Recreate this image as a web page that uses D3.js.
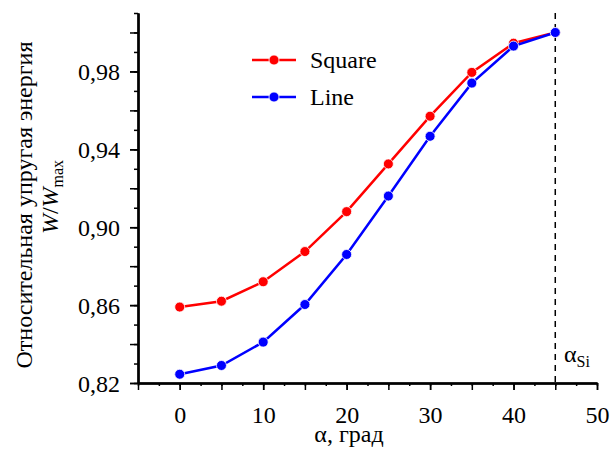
<!DOCTYPE html>
<html>
<head>
<meta charset="utf-8">
<script src="https://cdn.jsdelivr.net/npm/d3@7"></script>
</head>
<body style="margin:0;background:#fff">
<svg id="chart" width="611" height="454">
  <g class="titles">
    <text x="349" y="442" text-anchor="middle" style="font-family:'Liberation Serif';font-size:24px">α, град</text>
    <text transform="translate(32,205) rotate(-90)" text-anchor="middle" style="font-family:'Liberation Serif';font-size:24px">Относительная упругая энергия</text>
    <text transform="translate(58,197) rotate(-90)" text-anchor="middle" style="font-family:'Liberation Serif';font-size:24px"><tspan style="font-style:italic">W</tspan>/<tspan style="font-style:italic">W</tspan><tspan dy="5" style="font-size:16px">max</tspan></text>
    <text x="564" y="362" style="font-family:'Liberation Serif';font-size:24px">α<tspan dy="5" style="font-size:16px">Si</tspan></text>
  </g>
</svg>
<script>
var serif = 'Liberation Serif'

// angle, degrees
var angles = [0, 5, 10, 15, 20, 25, 30, 35, 40, 45]
var square = [0.859, 0.862, 0.872, 0.8875, 0.908, 0.9325, 0.957, 0.9795, 0.9945, 1.0]
var line = [0.8245, 0.829, 0.841, 0.8603, 0.886, 0.916, 0.9467, 0.974, 0.993, 1.0]
var seriesNames = ['Square', 'Line']
var seriesColors = ['#ff0000', '#0000ff']
var xTicks = [0, 10, 20, 30, 40, 50]
var yTicks = [0.82, 0.86, 0.90, 0.94, 0.98]
var alphaSi = 45

var x = d3.scaleLinear()
    .domain([-5, 50])
    .range([138, 597])

var y = d3.scaleLinear()
    .domain([0.82, 1.01])
    .range([383, 13])

var svg = d3.select('#chart')

var fmt = function(d) { return d3.format('.2f')(d).replace('.', ',') }

// minor and major ticks
svg.append('g')
    .attr('transform', 'translate(0,383)')
    .call(d3.axisBottom(x).tickValues(d3.range(-5, 50.1, 2.5)).tickSize(3).tickSizeOuter(0).tickFormat(''))
svg.append('g')
    .attr('transform', 'translate(0,383)')
    .call(d3.axisBottom(x).tickValues(d3.range(-5, 50.1, 5)).tickSize(7).tickSizeOuter(0).tickFormat(''))
var xAxis = svg.append('g')
    .attr('transform', 'translate(0,383)')
    .call(d3.axisBottom(x).tickValues(xTicks).tickSize(7).tickSizeOuter(0).tickPadding(16))

svg.append('g')
    .attr('transform', 'translate(138,0)')
    .call(d3.axisLeft(y).tickValues(d3.range(0.82, 1.015, 0.01)).tickSize(4).tickSizeOuter(0).tickFormat(''))
svg.append('g')
    .attr('transform', 'translate(138,0)')
    .call(d3.axisLeft(y).tickValues(d3.range(0.82, 1.005, 0.02)).tickSize(8).tickSizeOuter(0).tickFormat(''))
var yAxis = svg.append('g')
    .attr('transform', 'translate(138,0)')
    .call(d3.axisLeft(y).tickValues(yTicks).tickSize(8).tickSizeOuter(0).tickPadding(10).tickFormat(fmt))

svg.selectAll('.domain').attr('stroke', '#000').attr('stroke-width', 2)
svg.selectAll('.tick line').attr('stroke', '#000').attr('stroke-width', 1.5)
svg.selectAll('.tick text').style('font-size', '24px')
yAxis.selectAll('.tick text').attr('dy', '0.35em')

// alpha_Si marker
svg.append('line')
    .attr('x1', x(alphaSi)).attr('x2', x(alphaSi))
    .attr('y1', y(1.01)).attr('y2', y(0.82))
    .attr('stroke', '#000')
    .attr('stroke-width', 1.5)
    .attr('stroke-dasharray', '6,5')

// series
var data = [square, line]
var lineGen = d3.line()
    .x(function(d, i) { return x(angles[i]) })
    .y(function(d) { return y(d) })

data.forEach(function(vals, k) {
    var g = svg.append('g')
    g.append('path')
        .datum(vals)
        .attr('d', lineGen)
        .attr('fill', 'none')
        .attr('stroke', seriesColors[k])
        .attr('stroke-width', 2.5)
    g.selectAll('circle')
        .data(vals)
        .enter().append('circle')
        .attr('cx', function(d, i) { return x(angles[i]) })
        .attr('cy', function(d) { return y(d) })
        .attr('r', 5)
        .attr('fill', seriesColors[k])
        .attr('stroke', '#fff')
        .attr('stroke-width', 0.8)
})

// legend
var legend = svg.append('g')
seriesNames.forEach(function(name, k) {
    var ly = 60 + k * 37
    legend.append('line')
        .attr('x1', 252).attr('x2', 296)
        .attr('y1', ly).attr('y2', ly)
        .attr('stroke', seriesColors[k])
        .attr('stroke-width', 2.5)
    legend.append('circle')
        .attr('cx', 274).attr('cy', ly).attr('r', 5)
        .attr('fill', seriesColors[k])
        .attr('stroke', '#fff')
        .attr('stroke-width', 0.8)
    legend.append('text')
        .attr('x', 310).attr('y', ly)
        .attr('dy', '0.35em')
        .style('font-size', '24px')
        .text(name)
})

// d3 axes put sans-serif on their groups, set the serif face on every text
svg.selectAll('g').attr('font-family', serif)
svg.selectAll('text').style('font-family', serif).attr('fill', '#000')

// re-apply once the face is ready, in case the first layout used a fallback
if (document.fonts && document.fonts.load) {
    document.fonts.load('24px "Liberation Serif"').then(function() {
        svg.selectAll('text').style('font-family', null).style('font-family', serif)
    })
}
</script>
</body>
</html>
